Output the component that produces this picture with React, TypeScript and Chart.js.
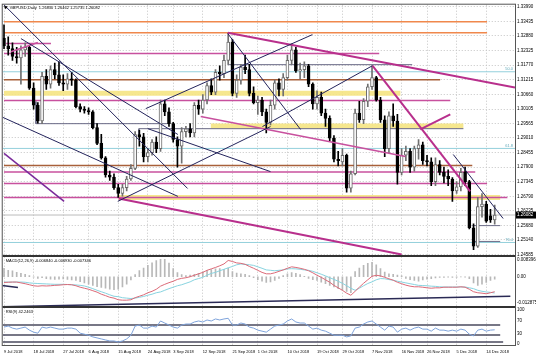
import React, { useEffect, useRef } from 'react';
import { Chart, registerables } from 'chart.js';

Chart.register(...registerables);

// ---------- texts ----------
const TITLE = 'GBPUSD,Daily  1.26830 1.26462 1.25735 1.26082';
const MACD_TITLE = 'MACD(12,26,9) -0.006840 -0.006930 -0.007346';
const RSI_TITLE = 'RSI(9) 42.2463';

// ---------- x axis (bar index of each date label) ----------
const TICK_INDEX = [0, 7, 14, 20, 27, 34, 40, 47, 54, 60, 67, 74, 80, 87, 94, 100, 107, 114];
const TICK_LABELS = ['9 Jul 2018', '18 Jul 2018', '27 Jul 2018', '6 Aug 2018', '15 Aug 2018', '24 Aug 2018', '3 Sep 2018', '12 Sep 2018', '21 Sep 2018', '1 Oct 2018', '10 Oct 2018', '19 Oct 2018', '29 Oct 2018', '7 Nov 2018', '16 Nov 2018', '26 Nov 2018', '5 Dec 2018', '14 Dec 2018'];

// ---------- price axis ----------
const PRICE_TICKS = [1.3399, 1.33435, 1.3288, 1.32325, 1.3177, 1.31215, 1.3066, 1.30105, 1.29565, 1.2901, 1.28455, 1.279, 1.27345, 1.2679, 1.26235, 1.2568, 1.2514, 1.24585];
const MACD_TICKS = [0.008396, 0, -0.012875];
const RSI_TICKS = [100, 70, 30, 0];
const BID = 1.26082;

// ---------- candles ----------
const OPEN = [1.3280, 1.3250, 1.3240, 1.3210, 1.3205, 1.3235, 1.3245, 1.3090, 1.3025, 1.2965, 1.3135, 1.3105, 1.3160, 1.3140, 1.3110, 1.3105, 1.3125, 1.3120, 1.3020, 1.3010, 1.3005, 1.3000, 1.2940, 1.2880, 1.2825, 1.2760, 1.2752, 1.2712, 1.2690, 1.2712, 1.2745, 1.2785, 1.2914, 1.2905, 1.2830, 1.2845, 1.2885, 1.2860, 1.3030, 1.3000, 1.2955, 1.2895, 1.2870, 1.2925, 1.2935, 1.2920, 1.3025, 1.3010, 1.3045, 1.3100, 1.3075, 1.3150, 1.3145, 1.3195, 1.3265, 1.3070, 1.3120, 1.3170, 1.3160, 1.3070, 1.3035, 1.3045, 1.3000, 1.2960, 1.3025, 1.3110, 1.3085, 1.3130, 1.3195, 1.3235, 1.3155, 1.3160, 1.3175, 1.3105, 1.3030, 1.3055, 1.2995, 1.2975, 1.2900, 1.2820, 1.2810, 1.2835, 1.2710, 1.2765, 1.2995, 1.2970, 1.3040, 1.3095, 1.3130, 1.3045, 1.2970, 1.2860, 1.2985, 1.2965, 1.2770, 1.2835, 1.2850, 1.2790, 1.2860, 1.2875, 1.2815, 1.2810, 1.2735, 1.2800, 1.2770, 1.2755, 1.2745, 1.2700, 1.2715, 1.2770, 1.2735, 1.2560, 1.2490, 1.2640, 1.2650, 1.2605, 1.2590];
const HIGH = [1.3330, 1.3285, 1.3262, 1.3245, 1.3250, 1.3262, 1.3250, 1.3110, 1.3035, 1.3150, 1.3160, 1.3175, 1.3185, 1.3190, 1.3140, 1.3145, 1.3150, 1.3125, 1.3030, 1.3020, 1.3015, 1.3005, 1.2955, 1.2915, 1.2830, 1.2775, 1.2765, 1.2725, 1.2725, 1.2755, 1.2800, 1.2925, 1.2930, 1.2918, 1.2860, 1.2895, 1.2905, 1.3045, 1.3045, 1.3015, 1.2960, 1.2905, 1.2940, 1.2945, 1.2955, 1.3035, 1.3045, 1.3065, 1.3110, 1.3125, 1.3160, 1.3175, 1.3215, 1.3298, 1.3275, 1.3140, 1.3180, 1.3215, 1.3180, 1.3095, 1.3060, 1.3055, 1.3010, 1.3045, 1.3120, 1.3125, 1.3145, 1.3215, 1.3258, 1.3245, 1.3185, 1.3190, 1.3180, 1.3110, 1.3080, 1.3075, 1.3010, 1.2985, 1.2910, 1.2850, 1.2860, 1.2840, 1.2775, 1.3010, 1.3040, 1.3050, 1.3105, 1.3175, 1.3135, 1.3055, 1.2985, 1.3000, 1.3030, 1.2990, 1.2860, 1.2870, 1.2860, 1.2870, 1.2895, 1.2885, 1.2835, 1.2825, 1.2825, 1.2815, 1.2790, 1.2780, 1.2750, 1.2735, 1.2785, 1.2790, 1.2740, 1.2575, 1.2675, 1.2690, 1.2660, 1.2630, 1.26462];
const LOW = [1.3240, 1.3215, 1.3195, 1.3185, 1.3105, 1.3210, 1.3085, 1.3010, 1.2957, 1.2955, 1.3085, 1.3090, 1.3125, 1.3100, 1.3080, 1.3085, 1.3100, 1.3015, 1.3000, 1.2995, 1.2990, 1.2935, 1.2875, 1.2820, 1.2752, 1.2740, 1.2705, 1.2675, 1.2680, 1.2700, 1.2740, 1.2780, 1.2870, 1.2810, 1.2810, 1.2835, 1.2845, 1.2850, 1.2985, 1.2945, 1.2885, 1.2790, 1.2805, 1.2905, 1.2905, 1.2905, 1.2990, 1.2995, 1.3030, 1.3065, 1.3065, 1.3120, 1.3130, 1.3180, 1.3060, 1.3055, 1.3105, 1.3145, 1.3060, 1.3030, 1.2990, 1.2985, 1.2920, 1.2950, 1.3010, 1.3060, 1.3060, 1.3120, 1.3180, 1.3150, 1.3125, 1.3130, 1.3095, 1.3010, 1.3010, 1.2985, 1.2945, 1.2890, 1.2810, 1.2795, 1.2795, 1.2695, 1.2695, 1.2760, 1.2960, 1.2955, 1.3020, 1.3085, 1.3040, 1.2960, 1.2830, 1.2845, 1.2945, 1.2725, 1.2760, 1.2815, 1.2770, 1.2775, 1.2820, 1.2800, 1.2795, 1.2720, 1.2720, 1.2760, 1.2730, 1.2720, 1.2660, 1.2690, 1.2700, 1.2720, 1.2555, 1.2477, 1.2485, 1.2600, 1.2580, 1.2580, 1.25735];
const CLOSE = [1.3250, 1.3240, 1.3210, 1.3205, 1.3235, 1.3245, 1.3090, 1.3025, 1.2965, 1.3135, 1.3105, 1.3160, 1.3140, 1.3110, 1.3105, 1.3125, 1.3120, 1.3020, 1.3010, 1.3005, 1.3000, 1.2940, 1.2880, 1.2825, 1.2760, 1.2752, 1.2712, 1.2690, 1.2712, 1.2745, 1.2785, 1.2914, 1.2905, 1.2830, 1.2845, 1.2885, 1.2860, 1.3030, 1.3000, 1.2955, 1.2895, 1.2870, 1.2925, 1.2935, 1.2920, 1.3025, 1.3010, 1.3045, 1.3100, 1.3075, 1.3150, 1.3145, 1.3195, 1.3265, 1.3070, 1.3120, 1.3170, 1.3160, 1.3070, 1.3035, 1.3045, 1.3000, 1.2960, 1.3025, 1.3110, 1.3085, 1.3130, 1.3195, 1.3235, 1.3155, 1.3160, 1.3175, 1.3105, 1.3030, 1.3055, 1.2995, 1.2975, 1.2900, 1.2820, 1.2815, 1.2835, 1.2710, 1.2765, 1.2995, 1.2970, 1.3040, 1.3095, 1.3130, 1.3045, 1.2970, 1.2860, 1.2985, 1.2965, 1.2770, 1.2835, 1.2850, 1.2790, 1.2860, 1.2875, 1.2815, 1.2810, 1.2735, 1.2800, 1.2770, 1.2755, 1.2745, 1.2700, 1.2715, 1.2770, 1.2735, 1.2560, 1.2490, 1.2640, 1.2650, 1.2585, 1.2590, 1.26082];

// ---------- MACD ----------
const MACD_HIST = [0.0041, 0.0031, 0.0029, 0.0021, 0.0016, 0.0012, 0.0005, -0.0002, -0.0008, -0.0005, -0.0010, -0.0012, -0.0013, -0.0012, -0.0011, -0.0013, -0.0015, -0.0018, -0.0024, -0.0030, -0.0036, -0.0042, -0.0048, -0.0052, -0.0056, -0.0060, -0.0063, -0.0060, -0.0050, -0.0036, -0.0015, 0.0010, 0.0030, 0.0042, 0.0055, 0.0068, 0.0078, 0.0085, 0.0084, 0.0066, 0.0040, 0.0020, 0.0010, 0.0006, 0.0008, 0.0012, 0.0016, 0.0024, 0.0030, 0.0035, 0.0038, 0.0040, 0.0036, 0.0042, 0.0025, 0.0018, 0.0014, 0.0012, 0.0006, -0.0005, -0.0014, -0.0022, -0.0028, -0.0025, -0.0018, -0.0008, 0.0006, 0.0014, 0.0020, 0.0016, 0.0010, 0.0002, -0.0008, -0.0014, -0.0018, -0.0026, -0.0034, -0.0042, -0.0050, -0.0058, -0.0066, -0.0072, -0.0078, 0.0025, 0.0042, 0.0055, 0.0065, 0.0070, 0.0058, 0.0040, 0.0022, 0.0014, 0.0012, 0.0008, 0.0004, -0.0008, -0.0014, -0.0018, -0.0022, -0.0016, -0.0012, -0.0010, -0.0006, -0.0004, -0.0003, -0.0002, -0.0004, -0.0003, -0.0001, -0.0002, -0.0010, -0.0030, -0.0042, -0.0036, -0.0028, -0.0018, -0.0012];
const MACD_MAIN = [-0.0028, -0.0027, -0.0026, -0.0026, -0.0030, -0.0034, -0.0039, -0.0044, -0.0046, -0.0044, -0.0045, -0.0044, -0.0042, -0.0041, -0.0039, -0.0038, -0.0039, -0.0044, -0.0051, -0.0056, -0.0061, -0.0068, -0.0075, -0.0085, -0.0092, -0.0100, -0.0104, -0.0112, -0.0114, -0.0114, -0.0112, -0.0102, -0.0095, -0.0088, -0.0078, -0.0071, -0.0061, -0.0046, -0.0037, -0.0029, -0.0022, -0.0013, -0.0008, -0.0005, 0.0000, 0.0007, 0.0014, 0.0021, 0.0031, 0.0038, 0.0045, 0.0053, 0.0062, 0.0079, 0.0074, 0.0067, 0.0065, 0.0060, 0.0050, 0.0041, 0.0031, 0.0021, 0.0014, 0.0014, 0.0019, 0.0026, 0.0033, 0.0041, 0.0048, 0.0045, 0.0041, 0.0036, 0.0029, 0.0019, 0.0007, -0.0003, -0.0015, -0.0027, -0.0042, -0.0054, -0.0066, -0.0080, -0.0090, -0.0071, -0.0051, -0.0032, -0.0015, 0.0002, 0.0007, 0.0004, -0.0003, -0.0010, -0.0017, -0.0027, -0.0034, -0.0041, -0.0046, -0.0049, -0.0049, -0.0051, -0.0054, -0.0056, -0.0054, -0.0054, -0.0051, -0.0051, -0.0051, -0.0051, -0.0049, -0.0051, -0.0061, -0.0073, -0.0078, -0.0080, -0.0083, -0.0078, -0.0073];
const MACD_SIGNAL = [-0.0026, -0.0026, -0.0026, -0.0026, -0.0026, -0.0027, -0.0030, -0.0032, -0.0033, -0.0034, -0.0035, -0.0036, -0.0037, -0.0037, -0.0037, -0.0038, -0.0039, -0.0040, -0.0042, -0.0045, -0.0051, -0.0058, -0.0066, -0.0073, -0.0080, -0.0088, -0.0095, -0.0097, -0.0102, -0.0104, -0.0106, -0.0104, -0.0100, -0.0096, -0.0090, -0.0085, -0.0078, -0.0074, -0.0066, -0.0058, -0.0051, -0.0044, -0.0039, -0.0032, -0.0025, -0.0015, -0.0009, -0.0003, 0.0007, 0.0016, 0.0021, 0.0029, 0.0036, 0.0043, 0.0050, 0.0058, 0.0062, 0.0060, 0.0058, 0.0055, 0.0048, 0.0041, 0.0033, 0.0031, 0.0029, 0.0031, 0.0033, 0.0038, 0.0039, 0.0038, 0.0036, 0.0033, 0.0031, 0.0026, 0.0019, 0.0012, 0.0004, -0.0005, -0.0013, -0.0022, -0.0032, -0.0044, -0.0056, -0.0066, -0.0056, -0.0044, -0.0033, -0.0025, -0.0015, -0.0009, -0.0010, -0.0014, -0.0017, -0.0022, -0.0026, -0.0030, -0.0034, -0.0038, -0.0042, -0.0043, -0.0044, -0.0046, -0.0047, -0.0049, -0.0050, -0.0050, -0.0050, -0.0050, -0.0050, -0.0050, -0.0054, -0.0058, -0.0066, -0.0071, -0.0074, -0.0076, -0.0079];

// ---------- RSI ----------
const RSI = [50, 53, 47, 44, 47, 50, 41, 35, 32, 50, 47, 50, 47, 44, 44, 47, 47, 44, 32, 29, 26, 21, 18, 15, 12, 9, 9, 6, 9, 15, 26, 53, 56, 47, 47, 53, 50, 68, 62, 56, 50, 47, 56, 59, 59, 65, 68, 65, 71, 68, 74, 71, 74, 76, 56, 56, 62, 59, 50, 47, 41, 38, 35, 44, 53, 56, 59, 68, 74, 65, 62, 62, 53, 44, 47, 41, 38, 32, 26, 26, 26, 21, 24, 47, 50, 59, 65, 68, 59, 50, 41, 53, 50, 35, 44, 47, 41, 47, 50, 44, 44, 38, 47, 41, 41, 38, 41, 38, 44, 41, 29, 24, 41, 44, 38, 41, 42];

// ---------- drawn objects (bar index, value) ----------
// horizontal levels: [price, fromBar, toBar]
const ORANGE_LEVELS = [[1.3342, 0, 114.2], [1.3300, 0, 114.2]];
const MAGENTA_LEVELS = [[1.3221, 0, 88.7], [1.3043, 0, 105.5], [1.2772, 0, 111.4], [1.2728, 0, 114.2], [1.2675, 0, 119.0], [1.3259, 0.5, 11.1]];
const BROWN_LEVELS = [[1.3122, 0, 103.1], [1.2796, 0, 110.7]];
const SLATE_LEVELS = [[1.3179, 52.9, 96.5], [1.2955, 7.55, 38.7], [1.2936, 31.9, 108.6], [1.2568, 110.7, 117.3], [1.2508, 110.7, 117.3]];
const YELLOW_BANDS = [[1.3070, 0, 93.7], [1.2946, 48.9, 108.6], [1.2675, 27.1, 117.3]];
const FIB_LEVELS = [[1.3152, '50.0'], [1.2861, '61.8'], [1.2504, '76.4']];
// vertical slate ticks: [bar, priceA, priceB]
const SLATE_VERTICALS = [[7.55, 1.3039, 1.2955], [31.9, 1.2936, 1.2906]];
// trend lines: [bar1, price1, bar2, price2]
const NAVY_TRENDS = [
  [0, 1.3406, 43.4, 1.2709],
  [4.0, 1.3278, 41.1, 1.2914],
  [-0.7, 1.2982, 41.1, 1.2679],
  [33.5, 1.3012, 72.9, 1.3293],
  [34.0, 1.2936, 63.0, 1.2773],
  [52.9, 1.3297, 70.1, 1.2933],
  [26.9, 1.2660, 63.0, 1.2944],
  [61.1, 1.2944, 87.1, 1.3175],
  [106.2, 1.2838, 118.0, 1.2595],
];
const MAGENTA_TRENDS = [
  [52.9, 1.3300, 120.8, 1.3092],
  [87.1, 1.3175, 110.2, 1.2698],
  [98.4, 1.2933, 105.5, 1.2990],
  [27.1, 1.2671, 94.0, 1.2458],
];
const PINK_TRENDS = [
  [46.5, 1.2982, 94.9, 1.2830],
  [1.65, 1.3228, 8.0, 1.3263],
];
const PURPLE_TRENDS = [[0, 1.2842, 14.2, 1.2660]];
const MACD_TRENDS = [[-0.7, -0.0146, 119.7, -0.0095], [-0.7, -0.0042, 3.3, -0.0053]];
const RSI_LEVELS = [[56, -0.3, 117.3], [26.5, -0.3, 117.3], [6, -0.3, 118]];

// ---------- view window ----------
const X_MIN = -0.3;
const X_MAX = 120.8;
const FONT = '"Liberation Sans", Arial, sans-serif';

function seg(points: number[][], color: string, width: number, axis: string, order: number) {
  return {
    type: 'line',
    data: points.map(([x, y]) => ({ x, y })),
    borderColor: color,
    borderWidth: width,
    pointRadius: 0,
    pointHoverRadius: 0,
    fill: false,
    tension: 0,
    xAxisID: 'x',
    yAxisID: axis,
    order,
    borderCapStyle: 'butt',
  };
}

const mtPlugin = {
  id: 'mtDecor',
  beforeDraw(chart: any) {
    const { ctx, width, height } = chart;
    ctx.save();
    ctx.fillStyle = '#ffffff';
    ctx.fillRect(0, 0, width, height);
    ctx.restore();
  },
  afterDraw(chart: any) {
    const { ctx, chartArea: ca, scales } = chart;
    const yMain = scales.y;
    const yM = scales.yMacd;
    const yR = scales.yRsi;
    ctx.save();
    ctx.strokeStyle = '#555';
    ctx.lineWidth = 1;
    ctx.strokeRect(ca.left - 0.5, ca.top - 0.5, ca.right - ca.left + 1, ca.bottom - ca.top + 1);
    ctx.fillStyle = '#333';
    for (const t of [yM.top, yR.top]) ctx.fillRect(ca.left, Math.round(t) - 1, ca.right - ca.left, 2);

    ctx.fillStyle = '#000';
    ctx.font = `4px ${FONT}`;
    ctx.textAlign = 'left';
    ctx.textBaseline = 'middle';
    ctx.beginPath();
    ctx.moveTo(ca.left + 1, ca.top + 1.5);
    ctx.lineTo(ca.left + 5, ca.top + 1.5);
    ctx.lineTo(ca.left + 3, ca.top + 4.5);
    ctx.closePath();
    ctx.fill();
    ctx.fillText(TITLE, ca.left + 7, ca.top + 3);
    ctx.fillText(MACD_TITLE, ca.left + 3, yM.top + 4);
    ctx.fillText(RSI_TITLE, ca.left + 3, yR.top + 4.5);

    ctx.fillStyle = '#5fa8b8';
    ctx.textAlign = 'right';
    ctx.textBaseline = 'bottom';
    for (const [p, t] of FIB_LEVELS as any[]) {
      ctx.fillText(t, ca.right - 2, yMain.getPixelForValue(p) - 0.5);
    }

    const by = yMain.getPixelForValue(BID);
    ctx.fillStyle = '#000';
    ctx.fillRect(ca.right + 1, by - 3.5, chart.width - ca.right - 1, 7);
    ctx.fillStyle = '#fff';
    ctx.textAlign = 'left';
    ctx.textBaseline = 'middle';
    ctx.font = `4.5px ${FONT}`;
    ctx.fillText(BID.toFixed(5), ca.right + 2, by);
    ctx.restore();
  },
};

export default function App() {
  const ref = useRef<HTMLCanvasElement>(null);

  useEffect(() => {
    const canvas = ref.current;
    if (!canvas) return;
    const idx = OPEN.map((_, i) => i);
    const isUp = (i: number) => CLOSE[i] >= OPEN[i];
    const datasets: any[] = [];

    YELLOW_BANDS.forEach(([p, a, b]) => datasets.push(seg([[a, p], [b, p]], 'rgba(245,228,130,0.9)', 5, 'y', 40)));
    FIB_LEVELS.forEach(([p]: any) => datasets.push(seg([[X_MIN, p], [X_MAX, p]], '#94d0dc', 1, 'y', 30)));
    datasets.push(seg([[X_MIN, BID], [X_MAX, BID]], '#bcbcbc', 1, 'y', 30));
    ORANGE_LEVELS.forEach(([p, a, b]) => datasets.push(seg([[a, p], [b, p]], '#f0884c', 1.5, 'y', 25)));
    MAGENTA_LEVELS.forEach(([p, a, b]) => datasets.push(seg([[a, p], [b, p]], '#c8509e', 1.5, 'y', 25)));
    BROWN_LEVELS.forEach(([p, a, b]) => datasets.push(seg([[a, p], [b, p]], '#a8603a', 1.5, 'y', 25)));
    SLATE_LEVELS.forEach(([p, a, b]) => datasets.push(seg([[a, p], [b, p]], '#6a6a86', 1, 'y', 25)));
    SLATE_VERTICALS.forEach(([x, a, b]) => datasets.push(seg([[x, a], [x, b]], '#6a6a86', 1, 'y', 25)));

    datasets.push({
      type: 'bar',
      data: idx.map((i) => ({ x: i, y: [LOW[i], HIGH[i]] })),
      backgroundColor: idx.map((i) => (isUp(i) ? '#707070' : '#000000')),
      borderWidth: 0,
      barThickness: 1,
      grouped: false,
      xAxisID: 'x',
      yAxisID: 'y',
      order: 2,
    });
    datasets.push({
      type: 'bar',
      data: idx.map((i) => ({ x: i, y: [OPEN[i], CLOSE[i]] })),
      backgroundColor: idx.map((i) => (isUp(i) ? '#ffffff' : '#000000')),
      borderColor: idx.map((i) => (isUp(i) ? '#6a6a6a' : '#000000')),
      borderWidth: 1,
      borderSkipped: false,
      barThickness: 3,
      minBarLength: 1,
      grouped: false,
      xAxisID: 'x',
      yAxisID: 'y',
      order: 1,
    });

    NAVY_TRENDS.forEach(([x1, p1, x2, p2]) => datasets.push(seg([[x1, p1], [x2, p2]], '#24245c', 1, 'y', 0)));
    MAGENTA_TRENDS.forEach(([x1, p1, x2, p2]) => datasets.push(seg([[x1, p1], [x2, p2]], '#b82f8c', 2, 'y', 0)));
    PINK_TRENDS.forEach(([x1, p1, x2, p2]) => datasets.push(seg([[x1, p1], [x2, p2]], '#c8509e', 1.5, 'y', 0)));
    PURPLE_TRENDS.forEach(([x1, p1, x2, p2]) => datasets.push(seg([[x1, p1], [x2, p2]], '#7a2a9a', 1.5, 'y', 0)));

    // MACD pane
    datasets.push({
      type: 'bar',
      data: idx.map((i) => ({ x: i, y: MACD_HIST[i] })),
      backgroundColor: '#b8b8b8',
      borderWidth: 0,
      barThickness: 1,
      grouped: false,
      xAxisID: 'x',
      yAxisID: 'yMacd',
      order: 12,
    });
    datasets.push(seg(idx.map((i) => [i, MACD_SIGNAL[i]]), '#88d4e0', 1, 'yMacd', 11));
    datasets.push(seg(idx.map((i) => [i, MACD_MAIN[i]]), '#dc6a78', 1, 'yMacd', 10));
    MACD_TRENDS.forEach(([x1, v1, x2, v2]) => datasets.push(seg([[x1, v1], [x2, v2]], '#2a2a55', 1.5, 'yMacd', 9)));

    // RSI pane
    RSI_LEVELS.forEach(([v, a, b]) => datasets.push(seg([[a, v], [b, v]], '#4a4a5e', 1.5, 'yRsi', 9)));
    datasets.push(seg(idx.map((i) => [i, RSI[i]]), '#7fa4dc', 1, 'yRsi', 8));

    const tickFont = { size: 4.5, family: FONT };
    const chart = new Chart(canvas, {
      type: 'bar',
      data: { datasets },
      plugins: [mtPlugin],
      options: {
        animation: false,
        responsive: false,
        maintainAspectRatio: false,
        devicePixelRatio: 1,
        events: [],
        layout: { padding: { left: 2, top: 3, right: 0, bottom: 0 } },
        plugins: { legend: { display: false }, tooltip: { enabled: false } },
        scales: {
          x: {
            type: 'linear',
            position: 'bottom',
            min: X_MIN,
            max: X_MAX,
            offset: false,
            afterBuildTicks: (s: any) => { s.ticks = TICK_INDEX.map((v) => ({ value: v })); },
            afterFit: (s: any) => { s.height = 13; },
            ticks: {
              callback: (v: any) => TICK_LABELS[TICK_INDEX.indexOf(v)] ?? '',
              align: 'start',
              autoSkip: false,
              maxRotation: 0,
              minRotation: 0,
              padding: 4,
              color: '#000',
              font: { size: 4, family: FONT },
            },
            grid: { color: '#c4c4c4', drawTicks: false, offset: false, lineWidth: 1 },
            border: { display: true, color: '#444', width: 1, dash: [1, 2] },
          },
          y: {
            type: 'linear',
            position: 'right',
            stack: 'panes',
            stackWeight: 253,
            weight: 0,
            min: 1.2451,
            max: 1.34066,
            afterBuildTicks: (s: any) => { s.ticks = PRICE_TICKS.map((v) => ({ value: v })); },
            afterFit: (s: any) => { s.width = 21; },
            ticks: { callback: (v: any) => Number(v).toFixed(5), crossAlign: 'near', padding: 2, color: '#000', font: tickFont, autoSkip: false },
            grid: { color: '#c4c4c4', drawTicks: false, lineWidth: 1 },
            border: { display: true, color: '#444', width: 1, dash: [1, 2] },
          },
          yMacd: {
            type: 'linear',
            position: 'right',
            stack: 'panes',
            stackWeight: 51,
            weight: 1,
            min: -0.014809,
            max: 0.009846,
            afterBuildTicks: (s: any) => { s.ticks = MACD_TICKS.map((v) => ({ value: v })); },
            afterFit: (s: any) => { s.width = 21; },
            ticks: { callback: (v: any) => (v === 0 ? '0.00' : Number(v).toFixed(6)), crossAlign: 'near', padding: 2, color: '#000', font: tickFont, autoSkip: false },
            grid: { display: false, drawTicks: false },
            border: { display: true, color: '#444', width: 1 },
          },
          yRsi: {
            type: 'linear',
            position: 'right',
            stack: 'panes',
            stackWeight: 38,
            weight: 2,
            min: -2.94,
            max: 108.8,
            afterBuildTicks: (s: any) => { s.ticks = RSI_TICKS.map((v) => ({ value: v })); },
            afterFit: (s: any) => { s.width = 21; },
            ticks: { callback: (v: any) => String(v), crossAlign: 'near', padding: 2, color: '#000', font: tickFont, autoSkip: false },
            grid: { display: false, drawTicks: false },
            border: { display: true, color: '#444', width: 1 },
          },
        },
      } as any,
    } as any);
    return () => chart.destroy();
  }, []);

  return (
    <div style={{ position: 'absolute', left: 0, top: 0, width: 536, height: 358, background: '#fff' }}>
      <canvas ref={ref} width={536} height={358} style={{ display: 'block', width: 536, height: 358 }} />
    </div>
  );
}
